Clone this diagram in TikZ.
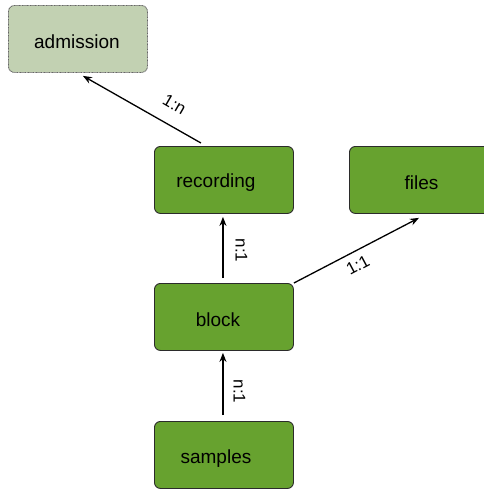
\documentclass[tikz,border=0pt]{standalone}
\usepackage{fontspec}
\setmainfont{Liberation Sans}
\usetikzlibrary{arrows.meta,calc}
\definecolor{boxgreen}{HTML}{67A22F}
\definecolor{lightgreen}{HTML}{C2D1B2}
\definecolor{edge}{HTML}{2B2B2B}
\tikzset{
  entity/.style={draw=edge, line width=0.9pt, fill=boxgreen, rounded corners=6pt,
    minimum width=139pt, minimum height=67pt, inner sep=0pt, anchor=north west},
  lightentity/.style={entity, fill=lightgreen, draw=gray!80!black, dash pattern=on 1pt off 0.6pt},
  txt/.style={font=\fontsize{19}{22}\selectfont, text=black},
  conn/.style={line width=1.3pt, -{Stealth[length=9pt,width=7pt]}},
  card/.style={font=\fontsize{17}{20}\selectfont, inner sep=3pt}
}
\begin{document}
\begin{tikzpicture}[x=1pt,y=-1pt]
\useasboundingbox (0,0) rectangle (484,490);
\clip (0,0) rectangle (484,490);
\node[lightentity, label={[txt,xshift=-1pt,yshift=-3pt]center:admission}] (admission) at (8,5) {};
\node[entity, label={[txt,xshift=-8pt,yshift=-3pt]center:recording}] (recording) at (154,146) {};
\node[entity, minimum width=142pt, label={[txt,xshift=1pt,yshift=-3pt]center:files}] (files) at (349,146) {};
\node[entity, label={[txt,xshift=-6pt,yshift=-3pt]center:block}] (block) at (154,283) {};
\node[entity, label={[txt,xshift=-8pt,yshift=-4pt]center:samples}] (samples) at (154,421) {};

\draw[conn] ([xshift=-23pt,yshift=3pt]recording.north) -- ([xshift=5pt,yshift=-3pt]admission.south)
  node[card, pos=0.31, rotate=-30, anchor=south, inner sep=14pt] {1:n};
\draw[conn] ([xshift=-1pt,yshift=5pt]block.north) -- ([xshift=-1pt,yshift=-3pt]recording.south)
  node[card, pos=0.45, rotate=-90, anchor=south, inner sep=12pt] {n:1};
\draw[conn] (block.north east) -- ([xshift=-1.5pt,yshift=-4pt]files.south)
  node[card, pos=0.46, rotate=28, anchor=north, inner sep=7pt] {1:1};
\draw[conn] ([xshift=-1pt,yshift=6pt]samples.north) -- ([xshift=-1pt,yshift=-2pt]block.south)
  node[card, pos=0.38, rotate=-90, anchor=south, inner sep=10pt] {n:1};
\end{tikzpicture}
\end{document}
